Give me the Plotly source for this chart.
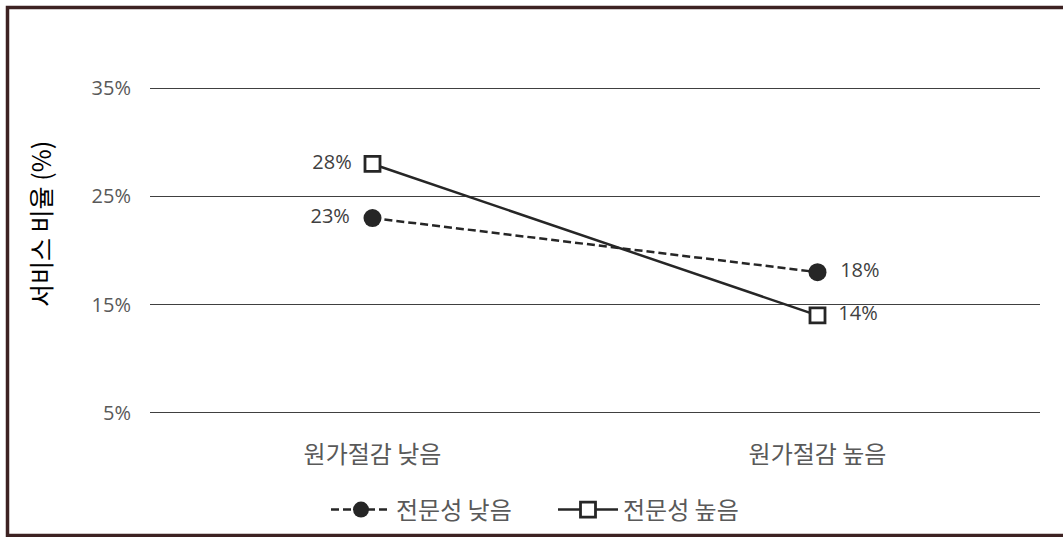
import plotly.graph_objects as go

categories = ["원가절감 낮음", "원가절감 높음"]
series_names = ["전문성 낮음", "전문성 높음"]
low_expertise = [23, 18]
high_expertise = [28, 14]
y_ticks = [5, 15, 25, 35]
y_tick_labels = ["5%", "15%", "25%", "35%"]

FONT = "Open Sans, Noto Sans CJK KR, sans-serif"
KFONT = "Noto Sans CJK KR, sans-serif"
W, H = 1063, 537
L, R, T, B = 150, 23, 85, 121
pw, ph = W - L - R, H - T - B


def labels(vals):
    return [f"{vals[0]}%  ", f"  {vals[1]}%"]


fig = go.Figure()
fig.add_trace(go.Scatter(
    x=categories, y=low_expertise, name=series_names[0],
    mode="lines+markers+text",
    line=dict(color="#262626", width=2.5, dash="8px,4px"),
    marker=dict(symbol="circle", size=18, color="#262626"),
    text=labels(low_expertise),
    textposition=["middle left", "middle right"],
    textfont=dict(family=FONT, size=20, color="#404040"),
))
fig.add_trace(go.Scatter(
    x=categories, y=high_expertise, name=series_names[1],
    mode="lines+markers+text",
    line=dict(color="#262626", width=2.5),
    marker=dict(symbol="square", size=15, color="white",
                line=dict(color="#262626", width=2.8)),
    text=labels(high_expertise),
    textposition=["middle left", "middle right"],
    textfont=dict(family=FONT, size=20, color="#404040"),
))

# outer border
fig.add_shape(type="rect", xref="paper", yref="paper",
              x0=(7.5 - L) / pw, x1=(W + 10 - L) / pw,
              y0=(H - B - 535.5) / ph, y1=(H - B - 7.5) / ph,
              line=dict(color="#3d2222", width=3.5), layer="below")

fig.add_annotation(text="서비스 비율 (%)", xref="paper", yref="paper",
                   x=(40 - L) / pw, y=(H - B - 224) / ph, textangle=-90,
                   xanchor="center", yanchor="middle",
                   showarrow=False, font=dict(family=KFONT, size=25, color="#000000"))

fig.update_layout(
    width=W, height=H,
    margin=dict(l=L, r=R, t=T, b=B, autoexpand=False),
    paper_bgcolor="white", plot_bgcolor="white",
    showlegend=True,
    legend=dict(orientation="h", x=(553 - L) / pw, xanchor="center",
                y=(H - B - 510) / ph, yanchor="middle",
                font=dict(family=KFONT, size=24, color="#595959"),
                itemwidth=60, entrywidth=152, tracegroupgap=0, itemsizing="trace"),
    xaxis=dict(range=[-0.5, 1.5], showgrid=False, zeroline=False,
               showline=False, ticks="", ticklabelstandoff=22, automargin=False,
               tickfont=dict(family=KFONT, size=24, color="#595959")),
    yaxis=dict(range=[4.7, 35.3], tickvals=y_ticks, ticktext=y_tick_labels,
               showgrid=True, gridcolor="#404040", gridwidth=1.3, automargin=False,
               zeroline=False, showline=False, ticks="", ticklabelstandoff=18,
               tickfont=dict(family=FONT, size=20, color="#595959")),
)

fig.write_html("out.html")
